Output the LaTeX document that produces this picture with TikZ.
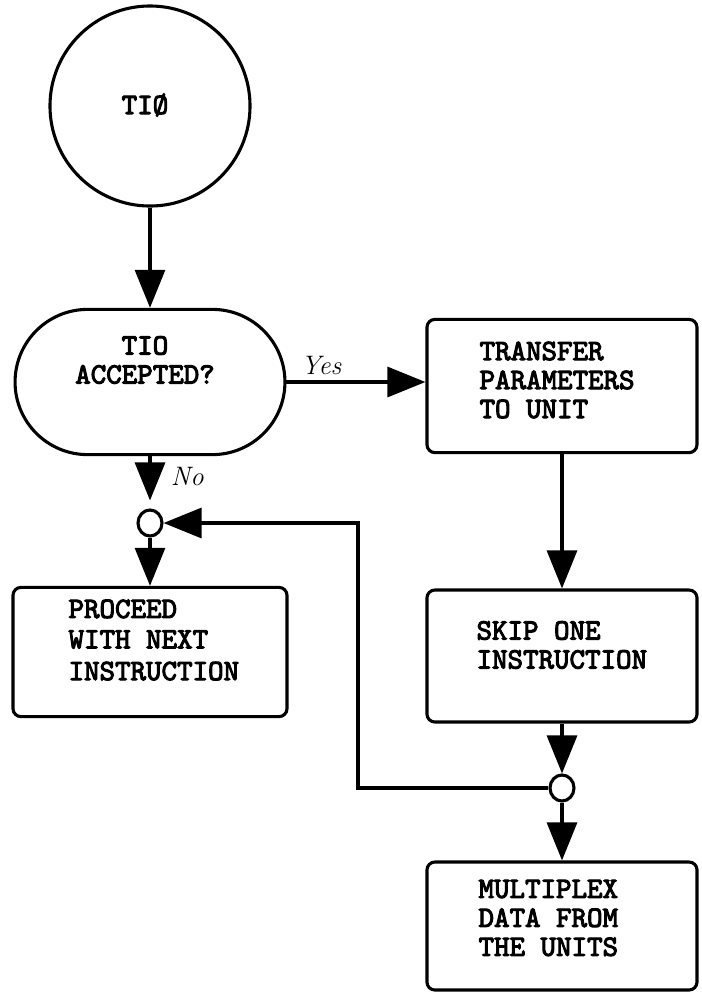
\documentclass[tikz,border=0pt]{standalone}
\usepackage{fontspec}
\newfontfamily\typefont{lmmono10-regular.otf}[FakeBold=3.5]
\usetikzlibrary{arrows.meta,shapes.misc,shapes.geometric}

\begin{document}
\begin{tikzpicture}[x=0.025cm,y=-0.025cm,
  line width=2.2pt,
  txt/.style={font=\typefont\fontsize{21}{20.6}\selectfont,inner sep=0pt},
  hand/.style={font=\itshape\fontsize{19}{21}\selectfont,inner sep=1pt},
  box/.style={draw,rounded corners=0.2cm,minimum width=6.75cm},
  joint/.style={draw,ellipse,minimum width=0.6cm,minimum height=0.65cm,inner sep=0pt},
  flow/.style={-{Triangle[length=0.95cm,width=0.75cm]}}]

\useasboundingbox (0,0) rectangle (702,995);

% Entry
\node[draw,circle,minimum size=5cm] (start) at (150,106) {};
\node[txt] (startText) at (145,105) {TIØ};

% Decision
\node[draw,rounded rectangle,minimum width=6.98cm,minimum height=3.63cm] (accept) at (150,382) {};
\node[txt,align=center] (acceptText) at (145,360) {TIO\\ACCEPTED?};

% Process boxes
\node[box,minimum height=3.33cm] (transfer) at (562,386) {};
\node[box,minimum height=3.3cm] (skip) at (562,656) {};
\node[box,minimum height=3.2cm] (plex) at (562,926) {};
\node[box,minimum height=3.23cm,minimum width=6.85cm] (proceed) at (150,652) {};

\node[txt,align=left,anchor=west] (transferText) at (478,380) {TRANSFER\\PARAMETERS\\TO UNIT};
\node[txt,align=left,anchor=west] (skipText) at (475,645) {SKIP ONE\\INSTRUCTION};
\node[txt,align=left,anchor=west] (plexText) at (477,918) {MULTIPLEX\\DATA FROM\\THE UNITS};
\node[txt,align=left,anchor=west] (proceedText) at (67,640) {PROCEED\\[1pt]WITH NEXT\\[2pt]INSTRUCTION};

% Junctions
\node[joint] (j1) at (150,523) {};
\node[joint] (j2) at (562,788) {};
\coordinate (bend) at (358,523);

% Flow lines
\draw[flow] (start) -- (accept);
\draw[flow] (accept.east) -- (accept.east -| transfer.west)
  node[hand,pos=0.25,above=3pt] {Yes};
\draw[flow,shorten >=0.2cm] (accept) -- (j1)
  node[hand,pos=0.38,right=0.45cm] {No};
\draw[flow] (j1) -- (proceed);
\draw[flow] (transfer) -- (skip);
\draw[flow] (skip) -- (j2);
\draw[flow] (j2) -- (plex);
\draw[flow] (j2.west) -| (bend) -- (j1.east);

\end{tikzpicture}
\end{document}
